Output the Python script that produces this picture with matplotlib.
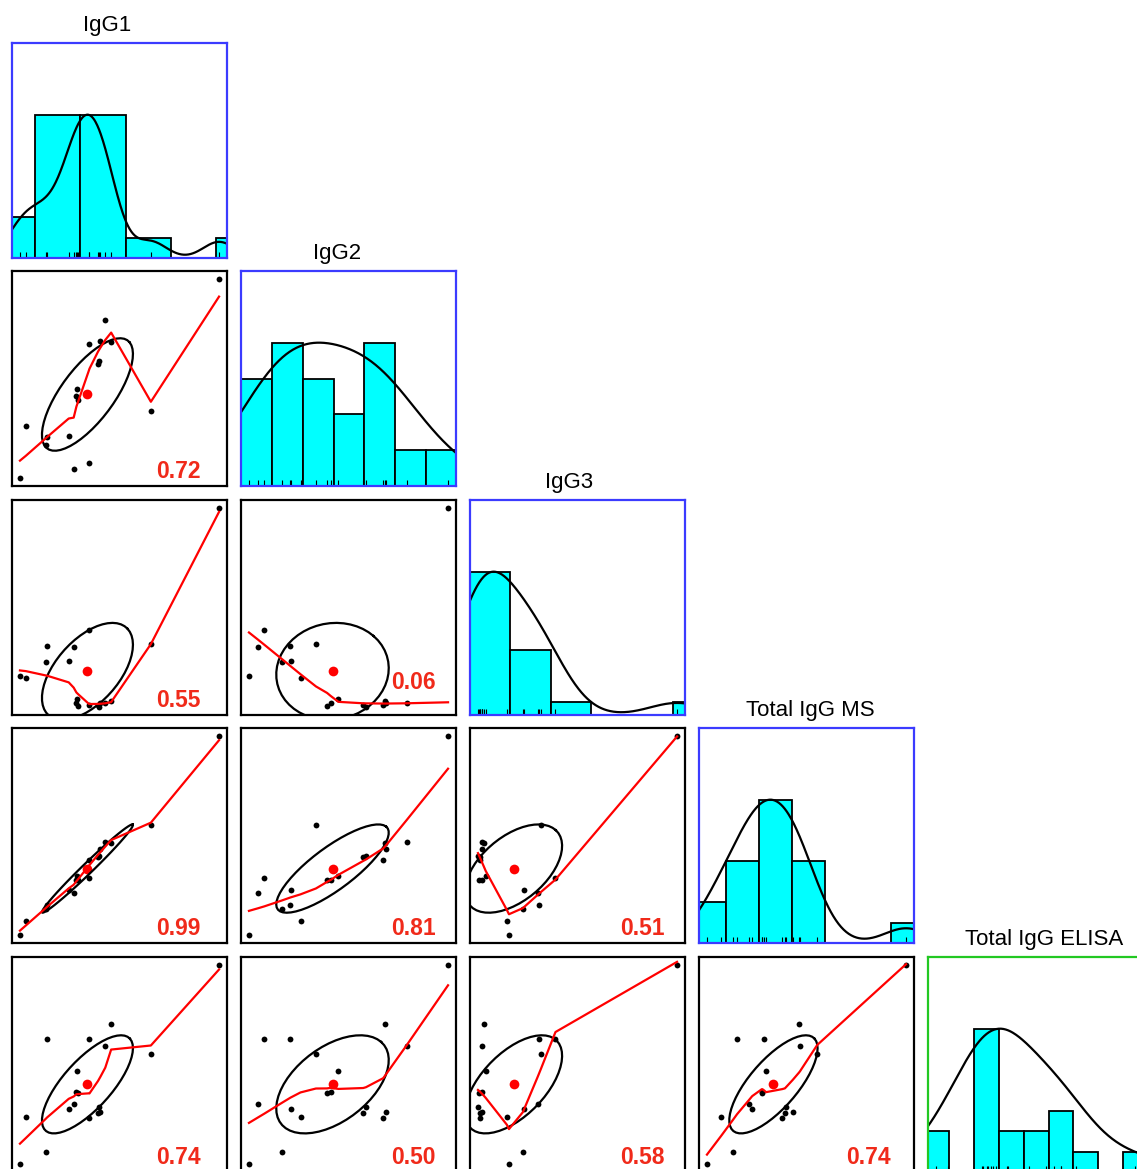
import numpy as np
import matplotlib.pyplot as plt

plt.rcParams['font.family'] = ['Liberation Sans', 'DejaVu Sans']

# 18 samples, values (arbitrary units)
igg1 = [5.07, 2.55, 2.18, 2.44, 2.68, 2.40, 2.39, 1.93, 1.91, 1.95,
        3.56, 0.79, 1.26, 1.23, 1.74, 2.20, 1.85, 0.66]
igg2 = [6.71, 5.38, 4.61, 4.70, 4.67, 4.05, 3.96, 3.16, 2.91, 2.79,
        2.43, 1.93, 1.59, 1.33, 1.61, 0.76, 0.55, 0.26]
igg3 = [5.10, 0.32, 0.27, 0.32, 0.37, 0.22, 0.27, 0.41, 0.32, 0.24,
        1.76, 0.93, 1.71, 1.32, 1.34, 2.12, 1.68, 0.98]
total_ms = [6.45, 3.24, 2.70, 3.02, 3.21, 2.80, 2.78, 2.21, 2.10, 2.08,
            3.76, 0.85, 1.33, 1.21, 1.79, 2.15, 1.70, 0.42]
total_elisa = [8.49, 5.22, 2.32, 2.56, 6.11, 2.76, 2.52, 4.21, 3.37, 3.33,
               4.90, 2.36, 5.50, 0.95, 2.68, 5.52, 2.88, 0.46]

var_names = ['IgG1', 'IgG2', 'IgG3', 'Total IgG MS', 'Total IgG ELISA']
variables = [igg1, igg2, igg3, total_ms, total_elisa]

# histogram breaks (R "Sturges" / pretty)
hist_breaks = [np.arange(0, 7), np.arange(0, 8), np.arange(0, 7),
               np.arange(0, 8), np.arange(0, 10)]

# correlations as printed in the lower panels, keyed (row, col)
cor_labels = {(1, 0): '0.72', (2, 0): '0.55', (2, 1): '0.06',
              (3, 0): '0.99', (3, 1): '0.81', (3, 2): '0.51',
              (4, 0): '0.74', (4, 1): '0.50', (4, 2): '0.58', (4, 3): '0.74'}

# layout in pixels
W, H = 1137, 1169
COL_LEFT = [12, 241, 470, 699, 928]
ROW_TOP = [43, 271, 500, 728, 957]
PANEL = 215
title_xfrac = [0.443, 0.449, 0.463, 0.519, 0.542]
diag_colors = ['#3B3BFF', '#3B3BFF', '#3B3BFF', '#3B3BFF', '#22C822']
label_xfrac = [0.773, 0.803, 0.801, 0.789]


def lowess(x, y, f=2/3, nsteps=3):
    """Port of R's clowess (stats::lowess)."""
    order = np.argsort(x, kind='stable')
    xs_ = np.asarray(x, float)[order]
    ys_ = np.asarray(y, float)[order]
    n = len(xs_)
    # 1-based arrays to follow the C code
    X = np.concatenate([[0.0], xs_])
    Y = np.concatenate([[0.0], ys_])
    YS = np.zeros(n + 1)
    rw = np.ones(n + 1)
    delta = 0.01 * (xs_[-1] - xs_[0])
    ns = max(2, min(n, int(f * n + 1e-7)))
    rng = X[n] - X[1]

    def lowest(xv, nleft, nright, userw):
        h = max(xv - X[nleft], X[nright] - xv)
        h9, h1 = 0.999 * h, 0.001 * h
        w = np.zeros(n + 1)
        a = 0.0
        j = nleft
        while j <= n:
            r = abs(X[j] - xv)
            if r <= h9:
                w[j] = 1.0 if r <= h1 else (1 - (r / h) ** 3) ** 3
                if userw:
                    w[j] *= rw[j]
                a += w[j]
            elif X[j] > xv:
                break
            j += 1
        nrt = j - 1
        if a <= 0:
            return None
        w[nleft:nrt + 1] /= a
        if h > 0:
            a = np.sum(w[nleft:nrt + 1] * X[nleft:nrt + 1])
            b = xv - a
            c = np.sum(w[nleft:nrt + 1] * (X[nleft:nrt + 1] - a) ** 2)
            if np.sqrt(c) > 0.001 * rng:
                b /= c
                w[nleft:nrt + 1] *= b * (X[nleft:nrt + 1] - a) + 1
        return np.sum(w[nleft:nrt + 1] * Y[nleft:nrt + 1])

    it = 1
    while it <= nsteps + 1:
        nleft, nright, last, i = 1, ns, 0, 1
        while True:
            if nright < n:
                d1 = X[i] - X[nleft]
                d2 = X[nright + 1] - X[i]
                if d1 > d2:
                    nleft += 1
                    nright += 1
                    continue
            fit = lowest(X[i], nleft, nright, it > 1)
            YS[i] = Y[i] if fit is None else fit
            if last < i - 1:
                denom = X[i] - X[last]
                for j in range(last + 1, i):
                    alpha = (X[j] - X[last]) / denom
                    YS[j] = alpha * YS[i] + (1 - alpha) * YS[last]
            last = i
            cut = X[last] + delta
            i = last + 1
            while i <= n:
                if X[i] > cut:
                    break
                if X[i] == X[last]:
                    YS[i] = YS[last]
                    last = i
                i += 1
            i = max(last + 1, i - 1)
            if last >= n:
                break
        res = Y[1:] - YS[1:]
        sc = np.mean(np.abs(res))
        if it > nsteps:
            break
        cmad = 6 * np.median(np.abs(res))
        if cmad < 1e-7 * sc:
            break
        r = np.abs(res)
        new = np.where(r <= 0.001 * cmad, 1.0,
                       np.where(r <= 0.999 * cmad, (1 - (r / cmad) ** 2) ** 2, 0.0))
        rw[1:] = new
        it += 1
    return xs_, YS[1:]


def density(values, adjust=1.2, cut=3, npts=512):
    """Gaussian KDE with R's bw.nrd bandwidth."""
    v = np.asarray(values, float)
    q1, q3 = np.percentile(v, [25, 75])
    bw = 1.06 * min(v.std(ddof=1), (q3 - q1) / 1.34) * len(v) ** (-0.2)
    bw *= adjust
    gx = np.linspace(v.min() - cut * bw, v.max() + cut * bw, npts)
    gy = np.exp(-0.5 * ((gx[:, None] - v[None, :]) / bw) ** 2).sum(axis=1)
    return gx, gy / gy.max()


def padded(values):
    lo, hi = min(values), max(values)
    r = hi - lo
    return lo - 0.04 * r, hi + 0.04 * r


def add_panel(fig, row, col, edge):
    left, top = COL_LEFT[col], ROW_TOP[row]
    ax = fig.add_axes([left / W, 1 - (top + PANEL) / H, PANEL / W, PANEL / H])
    ax.set_xticks([])
    ax.set_yticks([])
    for sp in ax.spines.values():
        sp.set_color(edge)
        sp.set_linewidth(1.6)
        sp.set_zorder(10)
    return ax


def draw_diag(ax, values, breaks, name, tx):
    v = np.asarray(values, float)
    counts, _ = np.histogram(v, bins=breaks)
    heights = counts / counts.max()
    ax.bar(breaks[:-1], heights, width=np.diff(breaks), align='edge',
           color='#00FFFF', edgecolor='black', linewidth=1.3, zorder=2)
    gx, gy = density(v)
    ax.plot(gx, gy, color='black', lw=1.6, zorder=3)
    ax.vlines(v, 0, 0.045, color='black', lw=0.8, zorder=4)
    ax.set_xlim(padded(v))
    ax.set_ylim(0, 1.5)
    ax.text(tx, 1 + 12 / PANEL, name, transform=ax.transAxes,
            ha='center', va='baseline', fontsize=16, color='black')


def draw_scatter(ax, x, y, label, lx, ly):
    x = np.asarray(x, float)
    y = np.asarray(y, float)
    ax.plot(x, y, 'o', ms=4.2, color='black', mec='none', zorder=2)
    xm, ym = x.mean(), y.mean()
    xs, ys = x.std(ddof=1), y.std(ddof=1)
    r = np.corrcoef(x, y)[0, 1]
    # psych::draw.ellipse, 1 sd
    ang = np.linspace(0, 2 * np.pi, 52)
    theta = (np.sign(r) if abs(r) > 0 else 1) / np.sqrt(2)
    s1, s2 = np.sqrt(1 + r), np.sqrt(1 - r)
    ex = theta * (s1 * np.cos(ang) - s2 * np.sin(ang)) * xs + xm
    ey = theta * (s1 * np.cos(ang) + s2 * np.sin(ang)) * ys + ym
    ax.plot(xm, ym, 'o', ms=7, color='#FF0000', mec='none', zorder=3)
    ax.plot(ex, ey, color='black', lw=1.6, zorder=3)
    sx, sy = lowess(x, y)
    ax.plot(sx, sy, color='#FF0000', lw=1.6, zorder=4)
    ax.set_xlim(padded(x))
    ax.set_ylim(padded(y))
    ax.text(lx, ly, label, transform=ax.transAxes, ha='center', va='baseline',
            fontsize=16.5, fontweight='bold', color='#F02A1A', zorder=5)


fig = plt.figure(figsize=(W / 100, H / 100), dpi=100)

n_vars = len(variables)
for i in range(n_vars):
    for j in range(i + 1):
        if i == j:
            ax = add_panel(fig, i, j, diag_colors[i])
            draw_diag(ax, variables[i], hist_breaks[i], var_names[i], title_xfrac[i])
        else:
            ax = add_panel(fig, i, j, 'black')
            ly = 26 / PANEL if (i, j) == (2, 1) else 8 / PANEL
            draw_scatter(ax, variables[j], variables[i], cor_labels[(i, j)],
                         label_xfrac[j], ly)

fig.savefig('out.png', dpi=100)
